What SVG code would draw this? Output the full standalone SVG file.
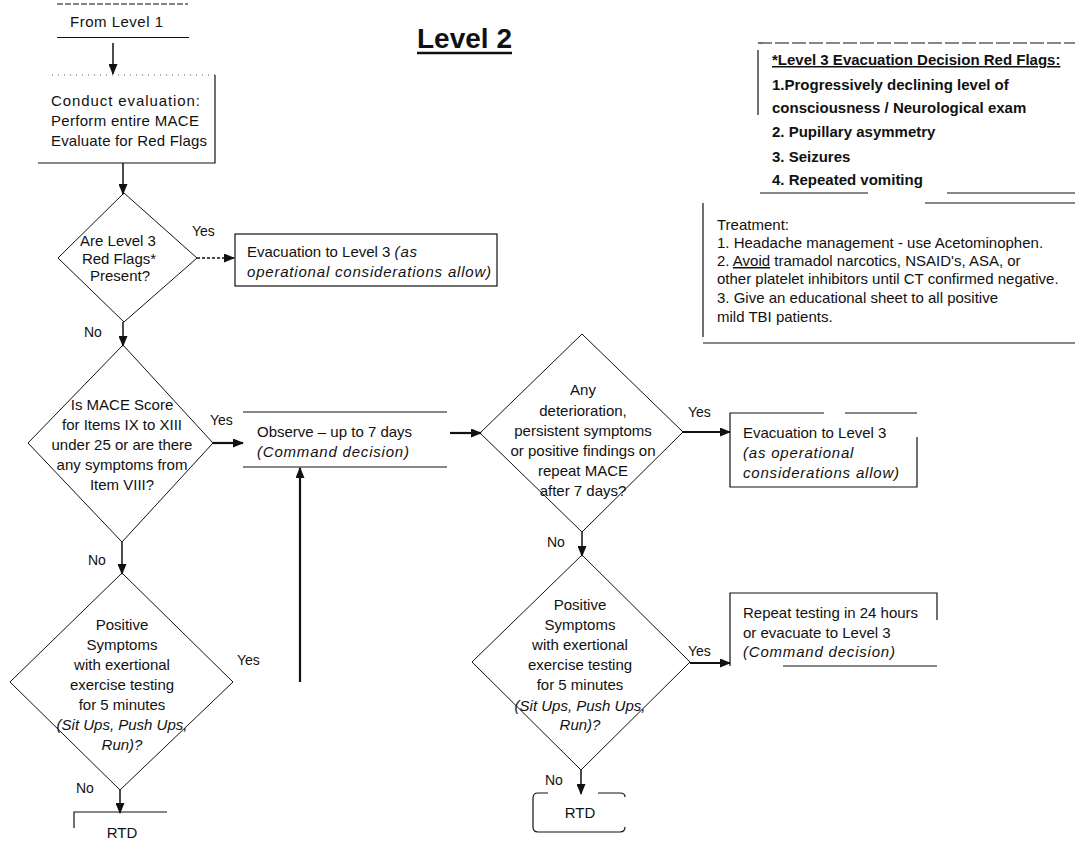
<svg xmlns="http://www.w3.org/2000/svg" width="1075" height="849" viewBox="0 0 1075 849">
<defs>
<style>
.t{font-family:"Liberation Sans",Arial,sans-serif;font-size:15px;fill:#111}
.c{text-anchor:middle}
.i{font-style:italic}
.b{font-weight:bold}
.ls{letter-spacing:0.8px}
.lb{font-size:14px}
.ln{fill:none;stroke:#111;stroke-width:1.2}
.dm{fill:none;stroke:#111;stroke-width:1}
.cn{fill:none;stroke:#111;stroke-width:1.5}
.tk{fill:none;stroke:#111;stroke-width:2.2}
</style>
<marker id="ah" markerUnits="userSpaceOnUse" markerWidth="11" markerHeight="9" refX="10" refY="4.5" orient="auto"><path d="M0,0 L11,4.5 L0,9 z" fill="#111"/></marker>
</defs>
<rect width="1075" height="849" fill="#fff"/>

<g id="title">
<text class="t b" x="417" y="48" style="font-size:28px">Level 2</text>
<line x1="417" y1="53" x2="512" y2="53" stroke="#111" stroke-width="2.5"/>
</g>

<g id="from-level1">
<line x1="57" y1="4" x2="188" y2="4" stroke="#111" stroke-width="1" stroke-dasharray="6,2"/>
<line class="ln" x1="57" y1="37.5" x2="189" y2="37.5"/>
<text class="t" x="70" y="27" textLength="93" lengthAdjust="spacing">From Level 1</text>
</g>

<g id="conduct">
<line x1="52" y1="75" x2="215" y2="75" stroke="#555" stroke-width="1" stroke-dasharray="1,5"/>
<path class="ln" d="M215,75 V163 H38"/>
<text class="t" x="51" y="106" textLength="149" lengthAdjust="spacing">Conduct evaluation:</text>
<text class="t" x="51" y="126" textLength="148" lengthAdjust="spacing">Perform entire MACE</text>
<text class="t" x="51" y="146" textLength="156" lengthAdjust="spacing">Evaluate for Red Flags</text>
</g>

<g id="redflags-decision">
<polygon class="dm" points="124,193 197,258 124,322 58,258"/>
<text class="t c" x="118" y="246">Are Level 3</text>
<text class="t c" x="119" y="263.5">Red Flags*</text>
<text class="t c" x="120" y="281">Present?</text>
</g>

<g id="evac1">
<rect class="ln" x="235" y="234" width="262" height="52"/>
<text class="t" x="247" y="257">Evacuation to Level 3 <tspan class="i ls">(as</tspan></text>
<text class="t i ls" x="247" y="277">operational considerations allow)</text>
</g>

<g id="mace-decision">
<polygon class="dm" points="123,345 213,443 122,542 28,443"/>
<text class="t c" x="122" y="410">Is MACE Score</text>
<text class="t c" x="122" y="430">for Items IX to XIII</text>
<text class="t c" x="122" y="450">under 25 or are there</text>
<text class="t c" x="122" y="470">any symptoms from</text>
<text class="t c" x="122" y="490">Item VIII?</text>
</g>

<g id="observe">
<line class="ln" x1="243" y1="412" x2="447" y2="412"/>
<line class="ln" x1="243" y1="467" x2="447" y2="467"/>
<text class="t" x="257" y="437">Observe – up to 7 days</text>
<text class="t i ls" x="257" y="457">(Command decision)</text>
</g>

<g id="exercise-left">
<polygon class="dm" points="122,573 233,682 120,790 10,682"/>
<text class="t c" x="122" y="630">Positive</text>
<text class="t c" x="122" y="650">Symptoms</text>
<text class="t c" x="122" y="670">with exertional</text>
<text class="t c" x="122" y="690">exercise testing</text>
<text class="t c" x="122" y="710">for 5 minutes</text>
<text class="t c i" x="122" y="730">(Sit Ups, Push Ups,</text>
<text class="t c i" x="122" y="750">Run)?</text>
</g>

<g id="rtd-left">
<path class="ln" d="M74,828 V812 H167"/>
<text class="t c" x="122" y="838">RTD</text>
</g>

<g id="deterioration-decision">
<polygon class="dm" points="582,334 683,432 582,532 480,433"/>
<text class="t c" x="583" y="395">Any</text>
<text class="t c" x="583" y="416">deterioration,</text>
<text class="t c" x="583" y="436">persistent symptoms</text>
<text class="t c" x="583" y="456">or positive findings on</text>
<text class="t c" x="583" y="476">repeat MACE</text>
<text class="t c" x="583" y="496">after 7 days?</text>
</g>

<g id="evac2">
<path class="ln" d="M824,413 H730 V487 H917 V437"/>
<line class="ln" x1="845" y1="413" x2="917" y2="413"/>
<text class="t" x="743" y="438">Evacuation to Level 3</text>
<text class="t i ls" x="743" y="458">(as operational</text>
<text class="t i ls" x="743" y="478">considerations allow)</text>
</g>

<g id="exercise-right">
<polygon class="dm" points="582,555 690,662 581,770 472,662"/>
<text class="t c" x="580" y="610">Positive</text>
<text class="t c" x="580" y="630">Symptoms</text>
<text class="t c" x="580" y="650">with exertional</text>
<text class="t c" x="580" y="670">exercise testing</text>
<text class="t c" x="580" y="690">for 5 minutes</text>
<text class="t c i" x="580" y="711">(Sit Ups, Push Ups,</text>
<text class="t c i" x="580" y="730">Run)?</text>
</g>

<g id="repeat">
<path class="ln" d="M937,620 V593 H730 V666"/>
<line class="ln" x1="783" y1="666" x2="937" y2="666"/>
<text class="t" x="743" y="618">Repeat testing in 24 hours</text>
<text class="t" x="743" y="638">or evacuate to Level 3</text>
<text class="t i ls" x="743" y="657">(Command decision)</text>
</g>

<g id="rtd-right">
<path class="ln" d="M548,793 H538 Q533,793 533,798 V827 Q533,832 538,832 H620 Q625,832 625,827"/>
<path class="ln" d="M598,793 H620 Q625,793 625,797"/>
<text class="t c" x="580" y="818">RTD</text>
</g>

<g id="redflags-list">
<line x1="758" y1="43" x2="1075" y2="43" stroke="#111" stroke-width="1.2" stroke-dasharray="14,3"/>
<line class="ln" x1="758" y1="50" x2="758" y2="115"/>
<line class="ln" x1="760" y1="193" x2="868" y2="193"/>
<line class="ln" x1="947" y1="193" x2="1075" y2="193"/>
<text class="t b" x="772" y="65" text-decoration="underline">*Level 3 Evacuation Decision Red Flags:</text>
<text class="t b" x="772" y="90">1.Progressively declining level of</text>
<text class="t b" x="772" y="113">consciousness / Neurological  exam</text>
<text class="t b" x="772" y="137">2. Pupillary asymmetry</text>
<text class="t b" x="772" y="162">3. Seizures</text>
<text class="t b" x="772" y="185">4. Repeated vomiting</text>
</g>

<g id="treatment">
<line class="ln" x1="925" y1="203" x2="1075" y2="203"/>
<line class="ln" x1="703" y1="203" x2="703" y2="337"/>
<line class="ln" x1="703" y1="343" x2="1075" y2="343"/>
<text class="t" x="717" y="230">Treatment:</text>
<text class="t" x="717" y="248">1. Headache management  - use Acetominophen.</text>
<text class="t" x="717" y="266">2. <tspan text-decoration="underline">Avoid</tspan> tramadol  narcotics, NSAID's, ASA, or</text>
<text class="t" x="717" y="284">other platelet inhibitors until CT confirmed negative.</text>
<text class="t" x="717" y="303">3. Give an educational sheet to all positive</text>
<text class="t" x="717" y="322">mild TBI patients.</text>
</g>

<g id="connectors">
<line class="cn" x1="113" y1="43" x2="113" y2="74" marker-end="url(#ah)"/>
<line class="cn" x1="123" y1="163" x2="123" y2="194" marker-end="url(#ah)"/>
<line x1="197" y1="258" x2="234" y2="258" stroke="#111" stroke-width="1.5" stroke-dasharray="3,2" marker-end="url(#ah)"/>
<line class="cn" x1="123" y1="322" x2="123" y2="346" marker-end="url(#ah)"/>
<line class="tk" x1="213" y1="443" x2="243" y2="443" marker-end="url(#ah)"/>
<line class="cn" x1="122" y1="542" x2="122" y2="574" marker-end="url(#ah)"/>
<line class="tk" x1="300" y1="682" x2="300" y2="468" marker-end="url(#ah)"/>
<line class="tk" x1="450" y1="433" x2="481" y2="433" marker-end="url(#ah)"/>
<line class="tk" x1="683" y1="432" x2="730" y2="432" marker-end="url(#ah)"/>
<line class="cn" x1="582" y1="532" x2="582" y2="556" marker-end="url(#ah)"/>
<line class="tk" x1="690" y1="663" x2="730" y2="663" marker-end="url(#ah)"/>
<line class="cn" x1="581" y1="770" x2="581" y2="794" marker-end="url(#ah)"/>
<line class="cn" x1="120" y1="790" x2="120" y2="813" marker-end="url(#ah)"/>
<text class="t lb" x="192" y="236">Yes</text>
<text class="t lb" x="84" y="337">No</text>
<text class="t lb" x="210" y="425">Yes</text>
<text class="t lb" x="88" y="565">No</text>
<text class="t lb" x="237" y="665">Yes</text>
<text class="t lb" x="76" y="793">No</text>
<text class="t lb" x="688" y="417">Yes</text>
<text class="t lb" x="547" y="547">No</text>
<text class="t lb" x="688" y="656">Yes</text>
<text class="t lb" x="545" y="785">No</text>
</g>
</svg>
